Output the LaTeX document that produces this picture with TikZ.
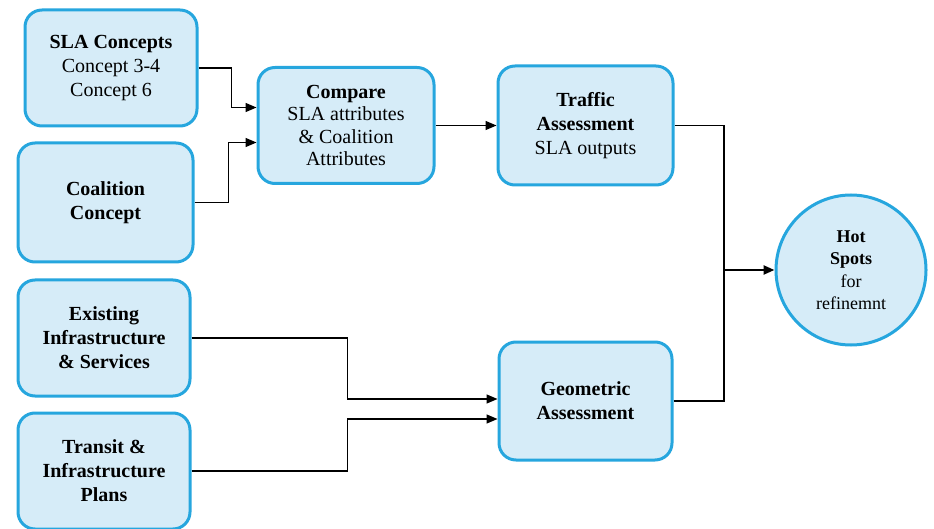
\documentclass[tikz,border=0pt]{standalone}
\usepackage{fontspec}
\setmainfont{LiberationSerif}[Extension=.ttf, UprightFont=*-Regular, BoldFont=*-Bold]
\usetikzlibrary{arrows.meta}

\definecolor{boxline}{RGB}{38,166,222}
\definecolor{boxfill}{RGB}{214,236,248}

\tikzset{
  block/.style={draw=boxline, line width=3pt, fill=boxfill, rounded corners=17pt,
    align=center, minimum width=172pt, minimum height=116pt, inner sep=2pt,
    font=\fontsize{20}{24}\selectfont},
  spot/.style={circle, draw=boxline, line width=3pt, fill=boxfill, align=center,
    minimum size=150pt, inner sep=0pt, font=\fontsize{18}{22.5}\selectfont},
  wire/.style={draw, line width=1.4pt},
  link/.style={wire, -{Triangle[length=11pt,width=9pt]}},
}

\begin{document}
\begin{tikzpicture}[x=1pt, y=-1pt]
  \useasboundingbox (0,0) rectangle (934,529);

  % inputs
  \node[block] (sla) at (111,68) {\textbf{SLA Concepts}\\Concept 3-4\\Concept 6};
  \node[block, minimum width=175pt, minimum height=119pt] (coal) at (105.5,202.5) {\textbf{Coalition}\\\textbf{Concept}};
  \node[block] (exist) at (104,338) {\textbf{Existing}\\\textbf{Infrastructure}\\\textbf{\& Services}};
  \node[block] (trans) at (104,471) {\textbf{Transit \&}\\\textbf{Infrastructure}\\\textbf{Plans}};

  % processing
  \node[block, minimum width=176pt, font=\fontsize{20}{22.5}\selectfont] (cmp) at (346,125.5) {\textbf{Compare}\\SLA attributes\\\& Coalition\\Attributes};
  \node[block, minimum width=175pt, minimum height=119pt] (trf) at (585.5,125.5) {\textbf{Traffic}\\\textbf{Assessment}\\SLA outputs};
  \node[block, minimum width=173pt, minimum height=118pt] (geo) at (585.5,401) {\textbf{Geometric}\\\textbf{Assessment}};

  % result
  \node[spot] (hot) at (851,270) {\textbf{Hot}\\\textbf{Spots}\\for\\refinemnt};

  % entry points and junctions
  \coordinate (cmpin1) at ([yshift=18pt]cmp.west);
  \coordinate (cmpin2) at ([yshift=-17pt]cmp.west);
  \coordinate (geoin1) at ([yshift=2pt]geo.west);
  \coordinate (geoin2) at ([yshift=-18pt]geo.west);
  \coordinate (join) at (724,270);

  \draw[link] (sla.east) -- ++(33,0) |- (cmpin1);
  \draw[link] (coal.east) -- ++(34,0) |- (cmpin2);
  \draw[link] (cmp.east) -- (trf.west);
  \draw[link] (exist.east) -- ++(156,0) |- (geoin1);
  \draw[link] (trans.east) -- ++(156,0) |- (geoin2);
  \draw[wire] (trf.east) -| (join);
  \draw[wire] (geo.east) -| (join);
  \draw[link, line width=2.4pt] (join) -- (hot.west);
\end{tikzpicture}
\end{document}
